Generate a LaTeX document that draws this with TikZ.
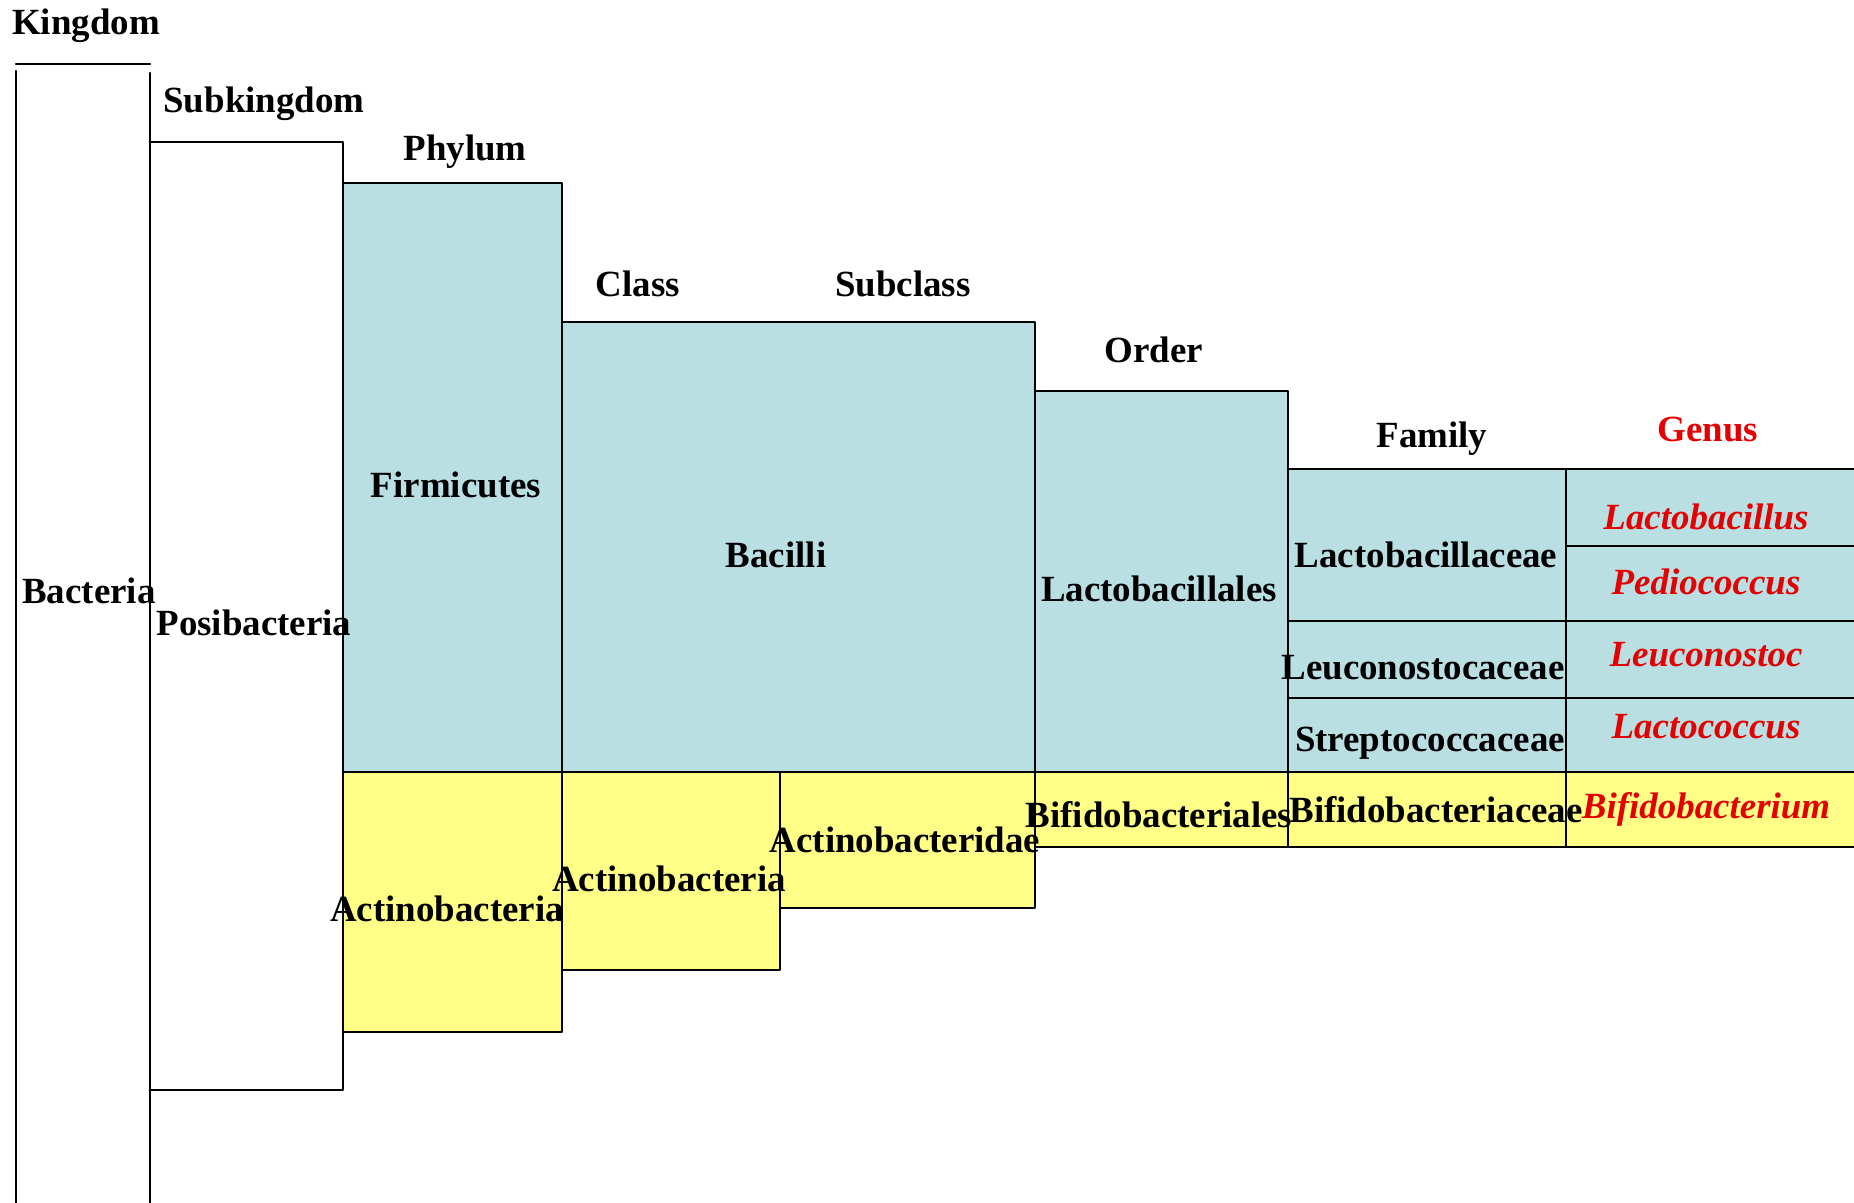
\documentclass[tikz,border=0pt]{standalone}
\usepackage{fontspec}
\setmainfont{Liberation Serif}
\definecolor{bacfill}{RGB}{185,223,227}
\definecolor{actfill}{RGB}{255,255,136}
\definecolor{genred}{RGB}{228,0,0}
\tikzset{
  rank/.style={font=\fontsize{10.5}{12}\selectfont\bfseries,inner sep=0pt},
  genlab/.style={rank,text=genred,font=\fontsize{10.5}{12}\selectfont\bfseries\itshape},
}
\begin{document}
\begin{tikzpicture}[x=0.01cm,y=-0.01cm,line join=round,line cap=round,line width=0.6pt]
\useasboundingbox (0,0) rectangle (1854,1203);
% blue part (Firmicutes)
\fill[bacfill] (343,183) rectangle (562,772);
\fill[bacfill] (562,322) rectangle (1035,772);
\fill[bacfill] (1035,391) rectangle (1288,772);
\fill[bacfill] (1288,469) rectangle (1854,772);
% yellow part (Actinobacteria)
\fill[actfill] (343,772) rectangle (562,1032);
\fill[actfill] (562,772) rectangle (780,970);
\fill[actfill] (780,772) rectangle (1035,908);
\fill[actfill] (1035,772) rectangle (1854,847);
% steps
\draw (16,64)--(150,64);
\draw (16,71)--(16,1203);
\draw (150,73)--(150,1203);
\draw (150,142)--(343,142)--(343,1090)--(150,1090);
\draw (343,183)--(562,183)--(562,1032)--(343,1032);
\draw (562,322)--(1035,322)--(1035,908)--(780,908);
\draw (780,772)--(780,970)--(562,970);
\draw (1035,391)--(1288,391)--(1288,847);
\draw (1288,469)--(1854,469);
\draw (1566,469)--(1566,847);
\draw (343,772)--(1854,772);
\draw (1035,847)--(1854,847);
\draw (1288,621)--(1854,621) (1288,698)--(1854,698) (1566,546)--(1854,546);

\foreach \n/\x/\y/\t in {kingdom/86/26/Kingdom,subkingdom/264/104/Subkingdom,
  phylum/465/152/Phylum,class/638/284/Class,subclass/903/284/Subclass,
  order/1154/350/Order,family/1432/439/Family,
  bacteria/89/591/Bacteria,posi/254/623/Posibacteria,
  firmi/456/485/Firmicutes,actphy/447/909/Actinobacteria,
  bacilli/776/555/Bacilli,actcla/669/879/Actinobacteria,
  actsub/905/840/Actinobacteridae,
  lactord/1159/589/Lactobacillales,bifiord/1159/815/Bifidobacteriales,
  lactfam/1426/555/Lactobacillaceae,leucfam/1423/668/Leuconostocaceae,
  strepfam/1430/743/Streptococcaceae,bififam/1436/810/Bifidobacteriaceae}
  \node[rank] (\n) at (\x,\y) {\t};

\node[rank,text=genred] (genus) at (1708,429) {Genus};
\foreach \n/\y/\t in {lactgen/517/Lactobacillus,pedigen/582/Pediococcus,
  leucgen/655/Leuconostoc,lactcgen/727/Lactococcus,bifigen/809/Bifidobacterium}
  \node[genlab] (\n) at (1706,\y) {\t};
\end{tikzpicture}
\end{document}
